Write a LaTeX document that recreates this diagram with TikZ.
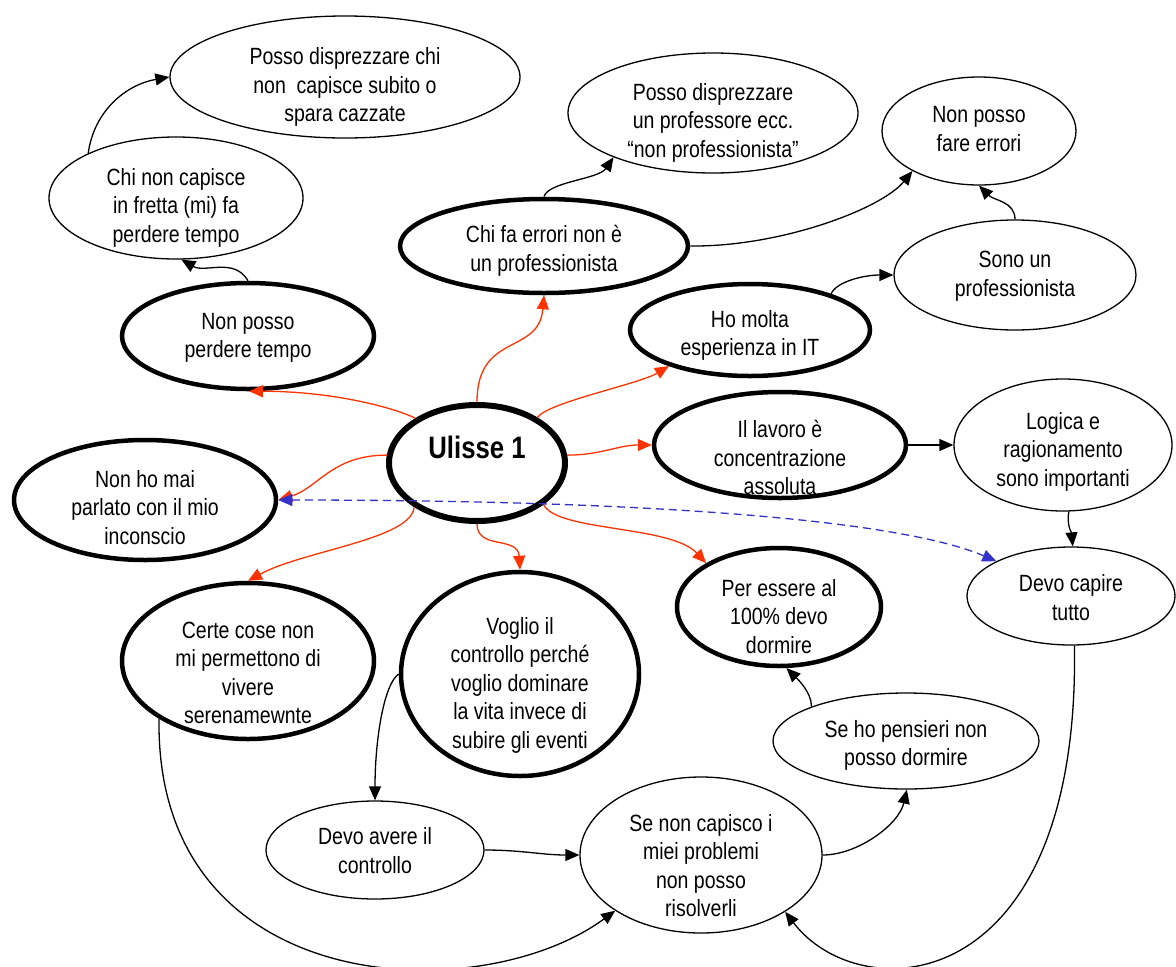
\documentclass[tikz,border=0pt]{standalone}
\usepackage{fontspec}
\setmainfont{Liberation Sans}[FakeStretch=0.83]
\usetikzlibrary{arrows.meta,shapes.geometric}
\definecolor{redc}{RGB}{255,51,0}
\definecolor{bluec}{RGB}{51,51,204}
\tikzset{
  sz/.style 2 args={minimum width={2*#1}, minimum height={2*#2}},
  ell/.style={ellipse, draw, line width=1.3pt, inner sep=0pt},
  thk/.style={ellipse, draw, line width=4.5pt, inner sep=0pt},
  hub/.style={ellipse, draw, line width=6pt, inner sep=0pt},
  txt/.style={align=center, inner sep=0pt, font=\fontsize{23.5}{28.5}\selectfont},
  hubtxt/.style={inner sep=0pt, font=\fontsize{31}{36}\selectfont\bfseries},
  arr/.style={line width=1.3pt, -{Triangle[length=14pt,width=12pt]}},
  rarr/.style={arr, color=redc},
  barr/.style={line width=1.3pt, color=bluec, dash pattern=on 8pt off 5pt,
    {Triangle[length=14pt,width=12pt]}-{Triangle[length=14pt,width=12pt]}}
}
\begin{document}
\begin{tikzpicture}[x=1pt,y=1pt]
\fill[white] (0,0) rectangle (1176,-967);
\useasboundingbox (0,0) rectangle (1176,-967);

% ellipses
\node[ell, sz={175}{61}] (A) at (345,-77) {};
\node[ell, sz={127}{61}] (B) at (176,-198) {};
\node[thk, sz={126}{53}] (C) at (248,-336) {};
\node[thk, sz={144}{47}] (D) at (544,-246) {};
\node[ell, sz={145}{60}] (E) at (713,-113) {};
\node[ell, sz={97}{54}] (F) at (979,-131) {};
\node[ell, sz={121}{55}] (G) at (1015,-275) {};
\node[thk, sz={120}{46}] (H) at (750,-330) {};
\node[hub, sz={88}{58}] (U) at (477,-463) {};
\node[thk, sz={126}{53}] (I) at (780,-445) {};
\node[ell, sz={109}{66}] (J) at (1063,-445) {};
\node[ell, sz={104}{49}] (K) at (1071,-596) {};
\node[thk, sz={131}{60}] (L) at (145,-500) {};
\node[thk, sz={126}{78}] (M) at (248,-661) {};
\node[thk, sz={119}{102}] (N) at (520,-674) {};
\node[thk, sz={102}{59}] (O) at (779,-607) {};
\node[ell, sz={133}{48}] (P) at (906,-741) {};
\node[ell, sz={109}{49}] (Q) at (375,-850) {};
\node[ell, sz={121}{78}] (R) at (701,-855) {};

% texts
\node[txt] (tA) at (345,-87) {Posso disprezzare chi\\non\ \ capisce subito o\\spara cazzate};
\node[txt] (tB) at (176,-207.5) {Chi non capisce\\in fretta (mi) fa\\perdere tempo};
\node[txt] (tC) at (248,-338) {Non posso\\perdere tempo};
\node[txt] (tD) at (544,-251) {Chi fa errori non è\\un professionista};
\node[txt] (tE) at (713,-122.5) {Posso disprezzare\\un professore ecc.\\“non professionista”};
\node[txt] (tF) at (979,-129) {Non posso\\fare errori};
\node[txt] (tG) at (1015,-276) {Sono un\\professionista};
\node[txt] (tH) at (750,-335.5) {Ho molta\\esperienza in IT};
\node[hubtxt] (tU) at (477,-447) {Ulisse 1};
\node[txt] (tI) at (780,-457.5) {Il lavoro è\\concentrazione\\assoluta};
\node[txt] (tJ) at (1063,-451.5) {Logica e\\ragionamento\\sono importanti};
\node[txt] (tK) at (1071,-597.5) {Devo capire\\tutto};
\node[txt] (tL) at (145,-507.5) {Non ho mai\\parlato con il mio\\inconscio};
\node[txt] (tM) at (248,-673) {Certe cose non\\mi permettono di\\vivere\\serenamewnte};
\node[txt] (tN) at (520,-685) {Voglio il\\controllo perché\\voglio dominare\\la vita invece di\\subire gli eventi};
\node[txt] (tO) at (779,-616.5) {Per essere al\\100\% devo\\dormire};
\node[txt] (tP) at (906,-745.5) {Se ho pensieri non\\posso dormire};
\node[txt] (tQ) at (375,-850.5) {Devo avere il\\controllo};
\node[txt] (tR) at (701,-865.5) {Se non capisco i\\miei problemi\\non posso\\risolverli};

% black connectors
\draw[arr] (B.153) to[out=82,in=190] (A.180);
\draw[arr] (C.90) to[out=120,in=-30] (B.-85);
\draw[arr] (D.90) .. controls +(4,15) and +(-15,-22) .. (E.204);
\draw[arr] (D.0) .. controls +(90,-1) and +(-31,-38) .. (F.211);
\draw[arr] (G.90) .. controls +(0,18) and +(15,-15) .. (F.-90);
\draw[arr] (H.24) .. controls +(5,12) and +(-30,0) .. (G.180);
\draw[arr] (I.0) -- (J.180);
\draw[arr] (J.-85) to[out=-100,in=95] (K.88);
\draw[arr] (N.180) .. controls +(-15,-10) and +(0,60) .. (Q.90);
\draw[arr] (Q.0) to[out=0,in=180] (R.180);
\draw[arr] (R.0) .. controls +(35,0) and +(-8,-35) .. (P.-89);
\draw[arr] (P.160) .. controls +(0,15) and +(10,-10) .. (O.-83);
\draw[arr] (M.213) .. controls (155,-1000) and (480,-1010) .. (R.213);
\draw[arr] (K.-86) .. controls (1080,-1000) and (860,-1010) .. (R.-34);

% red connectors
\draw[rarr] (U.144) .. controls +(-25,12) and +(80,0) .. (C.-89);
\draw[rarr] (U.90) .. controls +(0,70) and +(-5,-60) .. (D.-90);
\draw[rarr] (U.37) .. controls +(10,15) and +(-30,-18) .. (H.204);
\draw[rarr] (U.5) to[out=0,in=180] (I.180);
\draw[rarr] (U.175) .. controls +(-55,0) and +(40,12) .. (L.0);
\draw[rarr] (U.215) .. controls +(-2,-32) and +(55,30) .. (M.90);
\draw[rarr] (U.270) .. controls +(0,-26) and +(-2,34) .. (N.90);
\draw[rarr] (U.-32) .. controls +(13,-27) and +(-35,38) .. (O.149);

% blue dashed
\draw[barr] (L.0) .. controls (650,-500) and (900,-520) .. (K.155);
\end{tikzpicture}
\end{document}
